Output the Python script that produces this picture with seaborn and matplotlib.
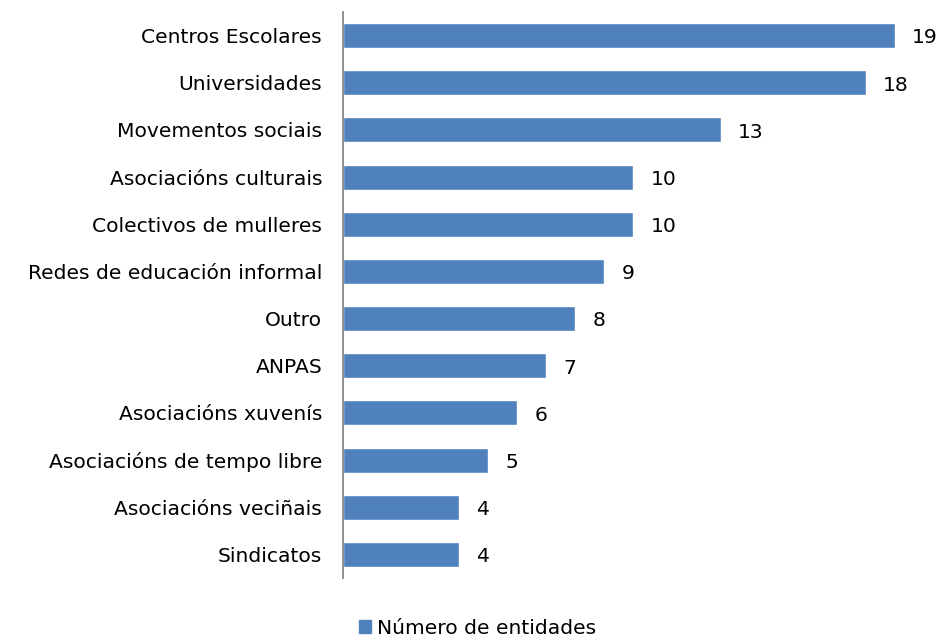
import matplotlib
matplotlib.use("Agg")
import matplotlib.pyplot as plt
import seaborn as sns
import pandas as pd
from matplotlib.patches import Patch

categories = ["Centros Escolares", "Universidades", "Movementos sociais",
              "Asociacións culturais", "Colectivos de mulleres",
              "Redes de educación informal", "Outro", "ANPAS",
              "Asociacións xuvenís", "Asociacións de tempo libre",
              "Asociacións veciñais", "Sindicatos"]
values = [19, 18, 13, 10, 10, 9, 8, 7, 6, 5, 4, 4]
series_name = "Número de entidades"

df = pd.DataFrame({"cat": categories, "val": values})

sns.set_theme(style="white")
plt.rcParams["font.family"] = ["DejaVu Sans"]

fig = plt.figure(figsize=(9.37, 6.39), dpi=100)
ax = fig.add_axes([0.366, 0.0955, 0.62, 0.8857])
color = "#4F81BD"
sns.barplot(data=df, x="val", y="cat", color=color, saturation=1,
            width=0.53, ax=ax, orient="h")
ax.set_xlim(0, 20)
ax.set_ylim(len(categories) - 0.5, -0.5)
ax.set_xlabel("")
ax.set_ylabel("")
ax.set_xticks([])
for s in ["top", "right", "bottom"]:
    ax.spines[s].set_visible(False)
ax.spines["left"].set_color("#868686")
ax.spines["left"].set_linewidth(1.3)
fs = 14.6
ax.tick_params(axis="y", length=0, labelsize=fs, pad=15, colors="black")
for p, v in zip(ax.patches, values):
    ax.text(p.get_width() + 0.6, p.get_y() + p.get_height() / 2 + 0.05, str(v),
            va="center", ha="left", fontsize=fs, color="black")

handles = [Patch(facecolor=color, edgecolor=color)]
fig.legend(handles, [series_name], loc="center", bbox_to_anchor=(0.51, 0.017),
           frameon=False, fontsize=fs, handlelength=0.6, handleheight=0.6,
           handletextpad=0.3, labelcolor="black")

fig.savefig("out.png", dpi=100)
